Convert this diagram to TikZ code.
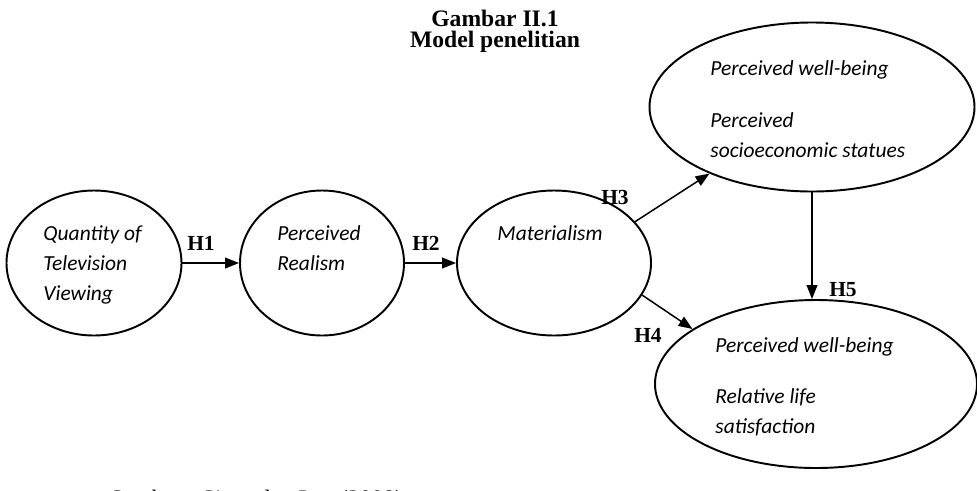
\documentclass[tikz,border=0pt]{standalone}
\usepackage{fontspec}
\setmainfont{Liberation Serif}
\newfontfamily\calib{Carlito}
\usetikzlibrary{arrows.meta, shapes.geometric}

\begin{document}
\begin{tikzpicture}[x=0.01638cm, y=-0.01638cm, >={Triangle[length=6.5pt, width=5pt]},
  var/.style={draw, ellipse, line width=0.9pt, inner sep=0pt},
  txt/.style={anchor=base west, inner sep=0pt, font=\calib\itshape\fontsize{10}{12}\selectfont},
  hyp/.style={inner sep=0pt, font=\bfseries\fontsize{10}{12}\selectfont},
  path/.style={->, line width=0.7pt}]
  \useasboundingbox (0,0) rectangle (977,490);

  % Judul
  \node[anchor=base, inner sep=0pt, font=\bfseries\fontsize{11}{13}\selectfont] (judul1) at (495,26) {Gambar II.1};
  \node[anchor=base, inner sep=0pt, font=\bfseries\fontsize{11}{13}\selectfont] (judul2) at (495,47) {Model penelitian};

  % Variabel
  \node[var, minimum width=175*0.01638cm, minimum height=145*0.01638cm] (qtv) at (94,263) {};
  \node[var, minimum width=164*0.01638cm, minimum height=145*0.01638cm] (real) at (322,263) {};
  \node[var, minimum width=194*0.01638cm, minimum height=145*0.01638cm] (mat) at (554,263) {};
  \node[var, minimum width=325*0.01638cm, minimum height=169*0.01638cm] (pses) at (812,107) {};
  \node[var, minimum width=322*0.01638cm, minimum height=168*0.01638cm] (pls) at (816,384) {};

  % Teks variabel
  \node[txt] (qtv1) at (43,240) {Quantity of};
  \node[txt] (qtv2) at (43,270) {Television};
  \node[txt] (qtv3) at (43,300) {Viewing};
  \node[txt] (real1) at (277,240) {Perceived};
  \node[txt] (real2) at (277,270) {Realism};
  \node[txt] (mat1) at (497,240) {Materialism};
  \node[txt] (pses1) at (710,75) {Perceived well-being};
  \node[txt] (pses2) at (710,127) {Perceived};
  \node[txt] (pses3) at (710,157) {socioeconomic statues};
  \node[txt] (pls1) at (715,352) {Perceived well-being};
  \node[txt] (pls2) at (715,403) {Relative life};
  \node[txt] (pls3) at (715,433) {satisfaction};

  % Hipotesis
  \draw[path] (qtv.east) -- (real.west);
  \draw[path] (real.east) -- (mat.west);
  \draw[path] (mat.27) -- (pses.213);
  \draw[path] (mat.-20) -- (pls.156);
  \draw[path] (pses.south) -- (pses.south |- pls.north);
  \node[hyp] (h1) at (201,243) {H1};
  \node[hyp] (h2) at (426,243) {H2};
  \node[hyp] (h3) at (615,197) {H3};
  \node[hyp] (h4) at (648,335) {H4};
  \node[hyp] (h5) at (843,290) {H5};

  % Sumber
  \begin{scope}
    \clip (0,0) rectangle (977,490);
    \node[anchor=base west, inner sep=0pt, font=\fontsize{11}{13}\selectfont] (sumber) at (109,506) {\textit{Sumber} : Sirgy dan Lee (2008)};
  \end{scope}
\end{tikzpicture}
\end{document}
